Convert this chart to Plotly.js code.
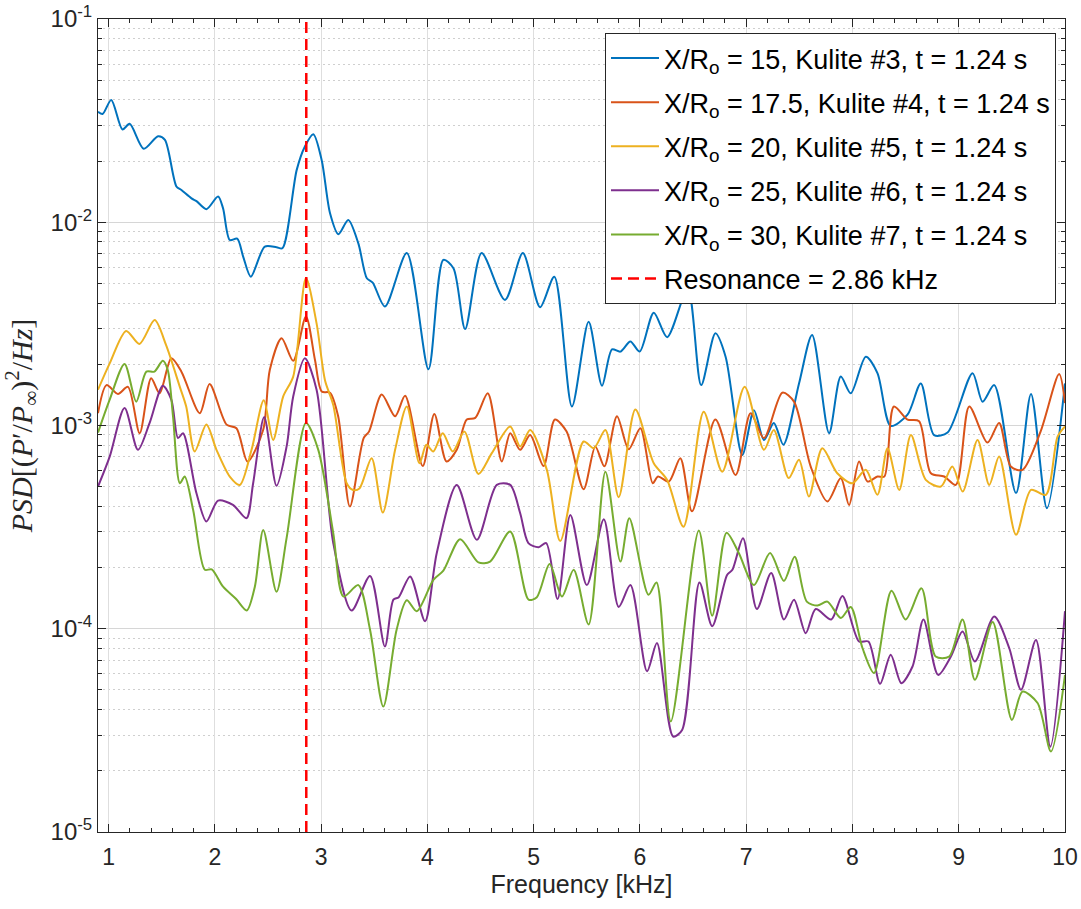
<!DOCTYPE html>
<html>
<head>
<meta charset="utf-8">
<script src="https://cdn.plot.ly/plotly-3.0.1.min.js"></script>
<style>
  html, body { margin: 0; padding: 0; background: #ffffff; }
  #psd { width: 1081px; height: 909px; }
</style>
</head>
<body>
<div id="psd"></div>
<script>
// Frequency grids (kHz) and PSD values for each Kulite sensor
const freqK3 = [0.9, 0.943, 1.025, 1.13, 1.198, 1.33, 1.465, 1.53, 1.638, 1.685, 1.78, 1.827, 1.92, 2.03, 2.077, 2.14, 2.21, 2.266, 2.338, 2.47, 2.58, 2.636, 2.77, 2.847, 2.926, 3.005, 3.083, 3.162, 3.255, 3.35, 3.43, 3.485, 3.6, 3.806, 4.01, 4.15, 4.245, 4.355, 4.51, 4.73, 4.898, 5.06, 5.194, 5.36, 5.517, 5.643, 5.737, 5.816, 5.91, 5.998, 6.13, 6.256, 6.45, 6.576, 6.71, 6.806, 6.963, 7.073, 7.167, 7.26, 7.35, 7.497, 7.62, 7.78, 7.89, 7.984, 8.125, 8.235, 8.36, 8.518, 8.643, 8.768, 8.895, 9.13, 9.224, 9.334, 9.539, 9.68, 9.83, 10.0];
const psdK3 = [0.035, 0.0341, 0.040, 0.0286, 0.0305, 0.0230, 0.0265, 0.0254, 0.0150, 0.0144, 0.0131, 0.0127, 0.0116, 0.0134, 0.0117, 0.00818, 0.0083, 0.00678, 0.0054, 0.00759, 0.00753, 0.00745, 0.0181, 0.0236, 0.0271, 0.0202, 0.0111, 0.00873, 0.01026, 0.00787, 0.0053, 0.00505, 0.00385, 0.00705, 0.00189, 0.00653, 0.00594, 0.00298, 0.00705, 0.00415, 0.00705, 0.00382, 0.0054, 0.00124, 0.00324, 0.00157, 0.00237, 0.00231, 0.00259, 0.00231, 0.00359, 0.00272, 0.0047, 0.00158, 0.00284, 0.00218, 0.000716, 0.00119, 0.000849, 0.00103, 0.000804, 0.00161, 0.00279, 0.000916, 0.00174, 0.00144, 0.00218, 0.00181, 0.000995, 0.00113, 0.00161, 0.000897, 0.000923, 0.00181, 0.00131, 0.00158, 0.000465, 0.00143, 0.000392, 0.00161];

const freqK4 = [0.9, 0.98, 1.088, 1.182, 1.292, 1.4, 1.48, 1.59, 1.685, 1.858, 1.95, 2.11, 2.203, 2.307, 2.454, 2.517, 2.628, 2.737, 2.857, 2.942, 3.005, 3.083, 3.16, 3.27, 3.4, 3.45, 3.57, 3.696, 3.79, 3.956, 4.065, 4.18, 4.276, 4.37, 4.45, 4.568, 4.7, 4.779, 4.873, 4.967, 5.093, 5.2, 5.31, 5.47, 5.58, 5.665, 5.784, 5.894, 6.004, 6.12, 6.17, 6.272, 6.38, 6.49, 6.71, 6.9, 7.041, 7.167, 7.34, 7.45, 7.607, 7.764, 7.89, 7.968, 8.062, 8.141, 8.235, 8.3, 8.39, 8.518, 8.627, 8.738, 8.863, 8.973, 9.099, 9.27, 9.38, 9.49, 9.6, 9.77, 9.945, 10.0];
const psdK4 = [0.00115, 0.00158, 0.00143, 0.00155, 0.000916, 0.00171, 0.00144, 0.00214, 0.00184, 0.00115, 0.0016, 0.00101, 0.00097, 0.000665, 0.00095, 0.00188, 0.00269, 0.00208, 0.00344, 0.0021, 0.00147, 0.00145, 0.00111, 0.000399, 0.000867, 0.000933, 0.00142, 0.00111, 0.0014, 0.000632, 0.00114, 0.000665, 0.000759, 0.00107, 0.00109, 0.00144, 0.000665, 0.000916, 0.000759, 0.000897, 0.000632, 0.00107, 0.000933, 0.000486, 0.000789, 0.00063, 0.00111, 0.000764, 0.00097, 0.00052, 0.000561, 0.00053, 0.00069, 0.000378, 0.00107, 0.000571, 0.00115, 0.000867, 0.00145, 0.00131, 0.000628, 0.000423, 0.000551, 0.000406, 0.000665, 0.00053, 0.000561, 0.000561, 0.00124, 0.00107, 0.00105, 0.000582, 0.000561, 0.00051, 0.00124, 0.000824, 0.00103, 0.000628, 0.000605, 0.000933, 0.00179, 0.00129];

const freqK5 = [0.9, 1.01, 1.165, 1.29, 1.433, 1.54, 1.67, 1.73, 1.81, 1.92, 2.015, 2.14, 2.235, 2.345, 2.46, 2.548, 2.643, 2.737, 2.857, 2.957, 3.036, 3.114, 3.24, 3.3, 3.36, 3.475, 3.58, 3.696, 3.806, 3.925, 3.99, 4.055, 4.144, 4.238, 4.348, 4.48, 4.606, 4.779, 4.873, 4.967, 5.124, 5.25, 5.47, 5.565, 5.675, 5.8, 5.957, 6.13, 6.256, 6.41, 6.6, 6.774, 6.985, 7.167, 7.26, 7.4, 7.497, 7.59, 7.716, 7.857, 8.0, 8.125, 8.235, 8.33, 8.44, 8.55, 8.69, 8.832, 8.94, 9.037, 9.177, 9.287, 9.38, 9.539, 9.68, 9.82, 9.93, 10.0];
const psdK5 = [0.0015, 0.00202, 0.00292, 0.00252, 0.0033, 0.00249, 0.00155, 0.00124, 0.000745, 0.00101, 0.000759, 0.000561, 0.00051, 0.000759, 0.00133, 0.000849, 0.00139, 0.00174, 0.00531, 0.00318, 0.00167, 0.00126, 0.00052, 0.000482, 0.00049, 0.00069, 0.000373, 0.000759, 0.00124, 0.000652, 0.000804, 0.000745, 0.000916, 0.000745, 0.000933, 0.000578, 0.000731, 0.00099, 0.000789, 0.00095, 0.000605, 0.00027, 0.000834, 0.000773, 0.00095, 0.000444, 0.0012, 0.000652, 0.00054, 0.000318, 0.00117, 0.000593, 0.00155, 0.000759, 0.00095, 0.000551, 0.000678, 0.000447, 0.000773, 0.000582, 0.00052, 0.000605, 0.000456, 0.000773, 0.000482, 0.000897, 0.00054, 0.000501, 0.000628, 0.000473, 0.000849, 0.00051, 0.000703, 0.00029, 0.000482, 0.000456, 0.000881, 0.00099];

const freqK6 = [0.9, 1.01, 1.15, 1.276, 1.386, 1.51, 1.59, 1.653, 1.7, 1.826, 1.92, 2.03, 2.17, 2.297, 2.36, 2.464, 2.58, 2.675, 2.737, 2.847, 2.957, 3.114, 3.287, 3.46, 3.6, 3.68, 3.73, 3.837, 3.978, 4.088, 4.276, 4.465, 4.653, 4.779, 4.873, 4.95, 5.046, 5.118, 5.225, 5.345, 5.5, 5.66, 5.8, 5.91, 6.067, 6.16, 6.312, 6.397, 6.56, 6.68, 6.82, 6.87, 6.97, 7.1, 7.235, 7.355, 7.45, 7.56, 7.654, 7.8, 7.905, 8.062, 8.15, 8.26, 8.36, 8.46, 8.565, 8.668, 8.806, 8.926, 9.036, 9.152, 9.334, 9.475, 9.586, 9.727, 9.862, 10.0];
const psdK6 = [0.000501, 0.000703, 0.00122, 0.000759, 0.00103, 0.00157, 0.00134, 0.000867, 0.000916, 0.000465, 0.000337, 0.000427, 0.000407, 0.00035, 0.00052, 0.0011, 0.000505, 0.000789, 0.00139, 0.00214, 0.0015, 0.000264, 0.000123, 0.000182, 0.0000818, 0.000139, 0.000143, 0.000181, 0.000109, 0.000236, 0.00051, 0.000274, 0.00051, 0.00051, 0.00037, 0.000264, 0.000252, 0.000264, 0.00014, 0.000363, 0.000164, 0.000346, 0.000128, 0.000164, 0.0000617, 0.0000851, 0.0000295, 0.0000318, 0.000169, 0.000103, 0.000184, 0.000195, 0.000279, 0.000125, 0.000188, 0.000111, 0.000139, 0.000095, 0.000125, 0.000111, 0.000145, 0.0000865, 0.0000865, 0.0000536, 0.0000745, 0.000054, 0.0000652, 0.000111, 0.0000593, 0.000073, 0.0000968, 0.000069, 0.000115, 0.0000804, 0.0000501, 0.0000881, 0.0000263, 0.000122];

const freqK7 = [0.9, 1.01, 1.15, 1.26, 1.355, 1.43, 1.51, 1.556, 1.606, 1.67, 1.716, 1.795, 1.905, 1.97, 2.077, 2.2, 2.3, 2.376, 2.455, 2.58, 2.675, 2.857, 2.973, 3.114, 3.21, 3.35, 3.46, 3.585, 3.71, 3.806, 3.9, 4.056, 4.15, 4.308, 4.48, 4.59, 4.779, 4.952, 5.03, 5.15, 5.266, 5.376, 5.517, 5.675, 5.816, 5.9, 6.08, 6.156, 6.29, 6.554, 6.68, 6.815, 6.93, 7.073, 7.224, 7.355, 7.456, 7.57, 7.67, 7.764, 7.89, 7.984, 8.094, 8.203, 8.367, 8.5, 8.65, 8.783, 8.91, 9.036, 9.152, 9.319, 9.5, 9.6, 9.742, 9.868, 10.0];
const psdK7 = [0.000923, 0.00134, 0.00201, 0.00131, 0.00184, 0.00184, 0.00208, 0.00188, 0.00111, 0.00052, 0.000561, 0.000385, 0.000195, 0.000196, 0.000161, 0.00014, 0.000123, 0.000161, 0.000306, 0.000152, 0.00028, 0.00103, 0.000759, 0.000295, 0.000144, 0.000164, 0.0000989, 0.0000414, 0.0000989, 0.000138, 0.000122, 0.000174, 0.000193, 0.000276, 0.000212, 0.000214, 0.000301, 0.000139, 0.000143, 0.000208, 0.000144, 0.000195, 0.000105, 0.000593, 0.000214, 0.00035, 0.000147, 0.000169, 0.000035, 0.000304, 0.000116, 0.000297, 0.000236, 0.000164, 0.000236, 0.000172, 0.000226, 0.000136, 0.00013, 0.000136, 0.000113, 0.000128, 0.0000804, 0.0000605, 0.000154, 0.000111, 0.000158, 0.000073, 0.000073, 0.000111, 0.0000561, 0.000108, 0.0000356, 0.0000491, 0.0000431, 0.0000249, 0.0000593];

// Series labels
const seriesNames = [
  'X/R<sub>o</sub> = 15, Kulite #3, t = 1.24 s',
  'X/R<sub>o</sub> = 17.5, Kulite #4, t = 1.24 s',
  'X/R<sub>o</sub> = 20, Kulite #5, t = 1.24 s',
  'X/R<sub>o</sub> = 25, Kulite #6, t = 1.24 s',
  'X/R<sub>o</sub> = 30, Kulite #7, t = 1.24 s'
];
const seriesColors = ['#0072BD', '#D95319', '#EDB120', '#7E2F8E', '#77AC30'];
const freqs = [freqK3, freqK4, freqK5, freqK6, freqK7];
const psds = [psdK3, psdK4, psdK5, psdK6, psdK7];

// Resonance marker and axis limits
const RESONANCE_KHZ = 2.86;
const resonanceLabel = 'Resonance = 2.86 kHz';
const X_RANGE = [0.9, 10];
const Y_LIMITS = [1e-5, 1e-1];

const xTickVals = [1, 2, 3, 4, 5, 6, 7, 8, 9, 10];
const yTickVals = [1e-5, 1e-4, 1e-3, 1e-2, 1e-1];
const yTickText = ['10<sup>-5</sup>', '10<sup>-4</sup>', '10<sup>-3</sup>', '10<sup>-2</sup>', '10<sup>-1</sup>'];

// minor ticks: 2..9 inside each decade
const yMinorVals = [];
for (let e = -5; e < -1; e++) {
  for (let m = 2; m <= 9; m++) yMinorVals.push(m * Math.pow(10, e));
}

const AXIS_COLOR = '#262626';
const traces = freqs.map((f, i) => ({
  x: f,
  y: psds[i],
  name: seriesNames[i],
  legendgroup: 'g' + i,
  type: 'scatter',
  mode: 'lines',
  line: { color: seriesColors[i], width: 2, shape: 'spline', smoothing: 0.8 },
  hoverinfo: 'skip'
}));

traces.push({
  x: [RESONANCE_KHZ, RESONANCE_KHZ],
  y: Y_LIMITS,
  name: resonanceLabel,
  legendgroup: 'res',
  type: 'scatter',
  mode: 'lines',
  line: { color: '#FF0000', width: 2.5, dash: '11px,6px' },
  hoverinfo: 'skip'
});

const layout = {
  width: 1081,
  height: 909,
  margin: { l: 98, r: 16, t: 19, b: 77 },
  paper_bgcolor: '#ffffff',
  plot_bgcolor: '#ffffff',
  font: { family: 'Liberation Sans, Arial, sans-serif', color: AXIS_COLOR, size: 23 },
  showlegend: true,
  legend: {
    x: 0.5243, y: 0.9828, xanchor: 'left', yanchor: 'top',
    bgcolor: '#ffffff', bordercolor: AXIS_COLOR, borderwidth: 1,
    font: { size: 27, color: '#000000', family: 'Liberation Sans, Arial, sans-serif' },
    traceorder: 'grouped', tracegroupgap: 6, itemwidth: 48
  },
  xaxis: {
    type: 'linear',
    range: X_RANGE,
    tickmode: 'array',
    tickvals: xTickVals,
    ticks: 'inside', ticklen: 8, tickwidth: 1, tickcolor: AXIS_COLOR,
    showline: true, linecolor: AXIS_COLOR, linewidth: 1, mirror: 'allticks',
    showgrid: true, gridcolor: '#dedede', gridwidth: 1,
    zeroline: false,
    minor: { dtick: 0.2, tick0: 0, ticks: 'inside', ticklen: 4, tickcolor: AXIS_COLOR, showgrid: false },
    tickfont: { size: 23, color: AXIS_COLOR },
    ticklabelstandoff: 4,
    title: { text: 'Frequency [kHz]', font: { size: 25, color: AXIS_COLOR }, standoff: 6 }
  },
  yaxis: {
    type: 'log',
    range: [Math.log10(Y_LIMITS[0]), Math.log10(Y_LIMITS[1])],
    tickmode: 'array',
    tickvals: yTickVals,
    ticktext: yTickText,
    ticks: 'inside', ticklen: 8, tickwidth: 1, tickcolor: AXIS_COLOR,
    showline: true, linecolor: AXIS_COLOR, linewidth: 1, mirror: 'allticks',
    showgrid: true, gridcolor: '#d6d6d6', gridwidth: 1,
    zeroline: false,
    minor: {
      tickmode: 'array', tickvals: yMinorVals,
      ticks: 'inside', ticklen: 4, tickcolor: AXIS_COLOR,
      showgrid: true, gridcolor: '#cfcfcf', griddash: '2px,3px', gridwidth: 1
    },
    tickfont: { size: 24, color: AXIS_COLOR },
    title: {
      text: '<i>PSD</i>[(<i>P</i>′/<i>P</i><sub>∞</sub>)<sup>2</sup>/<i>Hz</i>]',
      font: { size: 30, color: AXIS_COLOR, family: 'Liberation Serif, Times New Roman, serif' },
      standoff: 11
    }
  }
};

Plotly.newPlot('psd', traces, layout, { displayModeBar: false, staticPlot: true });
</script>
</body>
</html>
